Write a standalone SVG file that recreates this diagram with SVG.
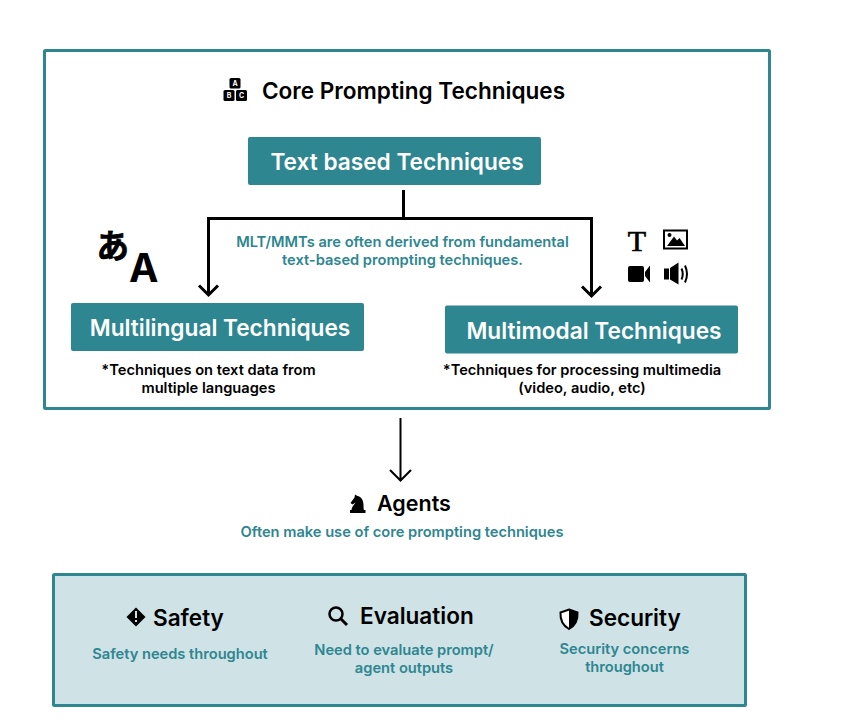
<svg xmlns="http://www.w3.org/2000/svg" width="848" height="722" viewBox="0 0 848 722">
<defs>
<style>
text{font-family:Inter,"Noto Sans","Liberation Sans",sans-serif}
.h{font-size:22.550px;font-weight:600;fill:#000}
.b{fill:#2d8690}
.bt{font-size:22.650px;font-weight:600;fill:#fff;text-anchor:middle}
.t{font-size:14.650px;font-weight:600;fill:#2d8690;text-anchor:middle}
.n{font-size:14.650px;font-weight:600;fill:#000;text-anchor:middle}
.l{fill:none;stroke:#000;stroke-width:3}
.l2{fill:none;stroke:#000;stroke-width:2}
</style>
</defs>
<rect width="848" height="722" fill="#fff"/>
<g id="core-frame"><rect x="44.500" y="50.500" width="725" height="358" fill="#fff" stroke="#2d8690" stroke-width="3" rx="1"/></g>
<g id="core-title">
<g id="abc-icon" fill="#000">
<rect x="229.500" y="78" width="11" height="10.500" rx="1.500"/><rect x="223.500" y="90" width="11" height="11" rx="1.500"/><rect x="236" y="90" width="11" height="11" rx="1.500"/>
<g font-size="7" font-weight="700" fill="#fff" text-anchor="middle"><text x="235" y="86">A</text><text x="229" y="98">B</text><text x="241.500" y="98">C</text></g>
</g>
<text class="h" x="262" y="99">Core Prompting Techniques</text>
</g>
<g id="text-based"><rect class="b" x="248" y="137" width="293" height="48" rx="2"/><text class="bt" x="397" y="169.500">Text based Techniques</text></g>
<g id="connectors">
<path class="l" d="M403.500 190V218.500H208.500V295"/>
<path class="l" d="M403.500 218.500H591.500V296"/>
<path class="l" d="M199 285.500L208.500 295L218 285.500M582 286.500L591.500 296L601 286.500"/>
<path class="l2" d="M400.500 418V480M390 470L400.500 480.500L411 470"/>
</g>
<g id="note"><text class="t" x="402.500" y="247">MLT/MMTs are often derived from fundamental</text><text class="t" x="402.500" y="265">text-based prompting techniques.</text></g>
<g id="lang-icon"><text x="96.500" y="258" font-size="32.500" font-weight="700" fill="#000" stroke="#000" stroke-width="0.700" style="font-family:'Noto Sans CJK JP',sans-serif">あ</text><text x="129" y="282" font-size="39.500" font-weight="700" fill="#000">A</text></g>
<g id="media-icons" fill="#000">
<text x="637" y="250.500" font-size="30" text-anchor="middle" stroke="#000" stroke-width="0.700" style="font-family:'Liberation Serif',serif">T</text>
<rect x="664" y="230.500" width="23" height="18" fill="#fff" stroke="#000" stroke-width="2"/>
<circle cx="669.500" cy="235" r="2"/><path d="M667 246L674 236.500L677 240.500L679.500 238L685 246Z"/>
<rect x="628" y="266" width="16" height="16" rx="2"/><path d="M650 265.500V282.500L645 276V272Z"/>
<path d="M664 268.500H669V279.500H664ZM670 268L678.500 262.500V284.500L670 279.500Z"/>
<path d="M681.500 268.500Q684 274 681.500 279.500M685 265.500Q689 274 685 282.500" fill="none" stroke="#000" stroke-width="2"/>
</g>
<g id="multilingual"><rect class="b" x="71" y="303" width="293" height="48" rx="2"/><text class="bt" x="220" y="335.500">Multilingual Techniques</text>
<text class="n" x="208.500" y="375">*Techniques on text data from</text><text class="n" x="208.500" y="393">multiple languages</text></g>
<g id="multimodal"><rect class="b" x="445" y="305.500" width="293" height="48" rx="2"/><text class="bt" x="594" y="338.500">Multimodal Techniques</text>
<text class="n" x="582" y="375">*Techniques for processing multimedia</text><text class="n" x="582" y="393">(video, audio, etc)</text></g>
<g id="agents">
<path id="knight" d="M350 513V510H351.500C352 506 354.500 504.500 355.500 502.500L352.500 504.500L350.500 503L354.500 497.500L355 494.500L357.500 496C361 496.500 363.500 500 363.500 505C363.500 507 363.500 509 364 510H365.500V513Z" fill="#000"/>
<text class="h" x="377" y="511" style="font-size:21.500px">Agents</text>
<text class="t" x="402" y="537">Often make use of core prompting techniques</text></g>
<g id="bottom-frame"><rect x="53.500" y="574.500" width="692" height="131" fill="#cfe2e6" stroke="#2d8690" stroke-width="3" rx="1"/></g>
<g id="safety">
<path d="M136 607.500L145.500 617L136 626.500L126.500 617Z" fill="#000"/><rect x="135" y="611" width="2" height="7" fill="#cfe2e6"/><rect x="135" y="620" width="2" height="2" fill="#cfe2e6"/>
<text class="h" x="153" y="626">Safety</text><text class="t" x="180" y="659">Safety needs throughout</text></g>
<g id="evaluation">
<circle cx="336" cy="614" r="6.500" fill="none" stroke="#000" stroke-width="2.500"/><path d="M341 619L347 625" stroke="#000" stroke-width="3"/>
<text class="h" x="360" y="624">Evaluation</text><text class="t" x="404" y="655">Need to evaluate prompt/</text><text class="t" x="404" y="673">agent outputs</text></g>
<g id="security">
<path d="M569 609.500L577.500 612.500C578 620 575 625.500 569 629C563 625.500 560 620 560.500 612.500Z" fill="#fff" stroke="#000" stroke-width="2"/><path d="M569 610V629C575 625.500 578 620 577.500 612.500Z" fill="#000"/>
<text class="h" x="589" y="626">Security</text><text class="t" x="624.500" y="654">Security concerns</text><text class="t" x="624.500" y="672">throughout</text></g>
</svg>
